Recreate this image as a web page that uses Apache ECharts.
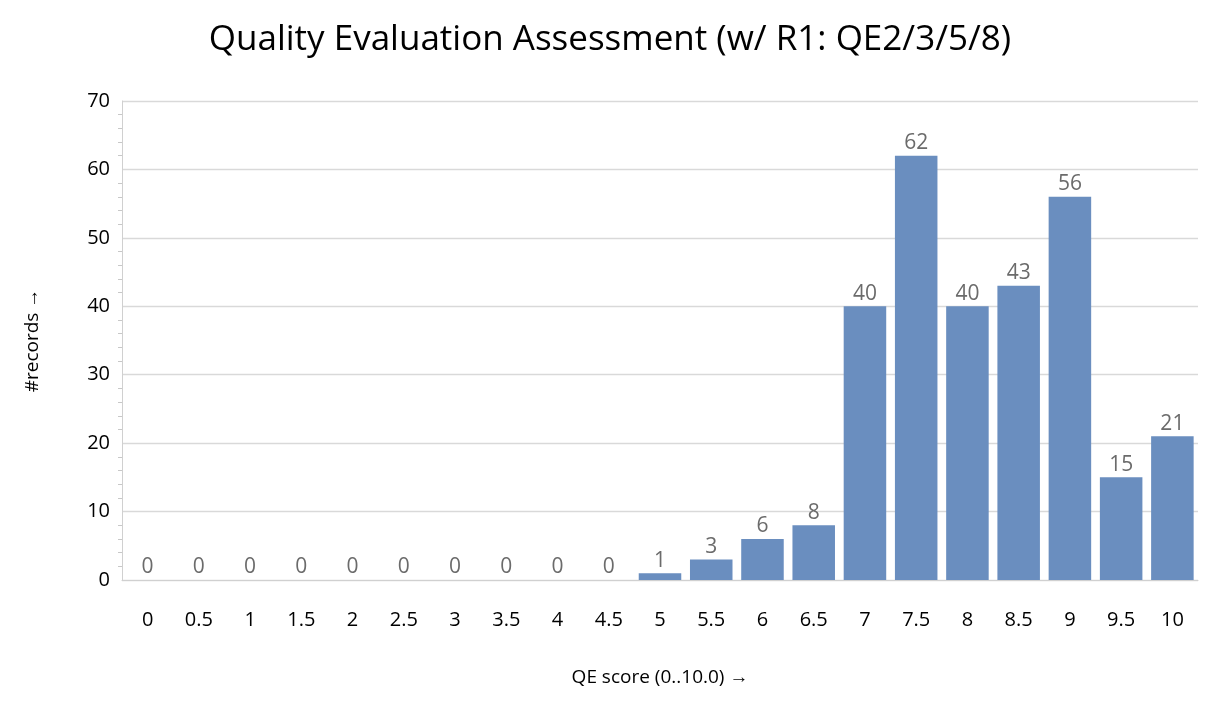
<!DOCTYPE html>
<html><head><meta charset="utf-8">
<script src="https://cdn.jsdelivr.net/npm/echarts@6.0.0/dist/echarts.min.js"></script>
<style>html,body{margin:0;background:#fff}#main{width:1220px;height:709px}</style>
</head><body><div id="main"></div>
<script>
var categories = ['0','0.5','1','1.5','2','2.5','3','3.5','4','4.5','5','5.5','6','6.5','7','7.5','8','8.5','9','9.5','10'];
var records = [0,0,0,0,0,0,0,0,0,0,1,3,6,8,40,62,40,43,56,15,21];

var chart = echarts.init(document.getElementById('main'));
chart.setOption({
  animation: false,
  textStyle: { fontFamily: 'Open Sans, Noto Sans, sans-serif' },
  title: {
    text: 'Quality Evaluation Assessment (w/ R1: QE2/3/5/8)',
    left: 'center', top: 18,
    textStyle: { fontSize: 35, fontWeight: 'normal', color: '#000', fontFamily: 'Open Sans, Noto Sans, sans-serif' }
  },
  grid: { left: 122, right: 22, top: 101, bottom: 129 },
  xAxis: {
    type: 'category', data: categories,
    name: 'QE score (0..10.0) \u2192', nameLocation: 'middle', nameGap: 88,
    nameTextStyle: { fontSize: 19, color: '#000' },
    axisLine: { lineStyle: { color: '#d0d0d0' } },
    axisTick: { show: false },
    axisLabel: { fontSize: 20, color: '#000', margin: 30 }
  },
  yAxis: {
    type: 'value', min: 0, max: 70, interval: 10,
    name: '#records \u2192', nameLocation: 'middle', nameGap: 80, nameRotate: 90,
    nameTextStyle: { fontSize: 19, color: '#000' },
    axisLine: { show: true, lineStyle: { color: '#d0d0d0' } },
    axisTick: { show: false },
    minorTick: { show: true, splitNumber: 5, length: 4, lineStyle: { color: '#c8c8c8' } },
    axisLabel: { fontSize: 20, color: '#000', margin: 12 },
    splitLine: { lineStyle: { color: '#d9d9d9', width: 1.3 } }
  },
  series: [{
    type: 'bar', data: records, barCategoryGap: '17%',
    itemStyle: { color: '#6a8ebf' },
    label: { show: true, position: 'top', fontSize: 21, color: '#6b6b6b', distance: 2 }
  }]
});
</script></body></html>
